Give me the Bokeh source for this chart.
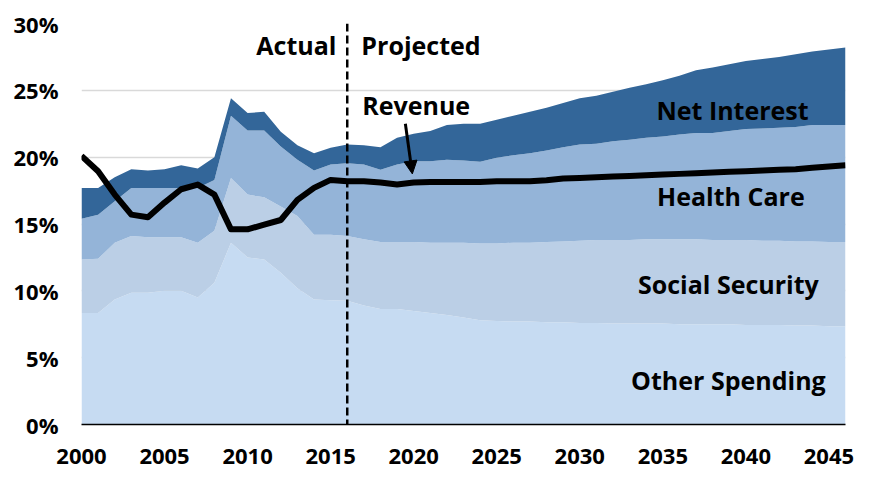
from bokeh.plotting import figure
from bokeh.models import (ColumnDataSource, Range1d, FixedTicker, PrintfTickFormatter,
                          Span, Label, Arrow, NormalHead)
from bokeh.embed import file_html
from bokeh.resources import INLINE

years = list(range(2000, 2047))

other_spending = [8.35, 8.35, 9.35, 9.85, 9.85, 10.0, 10.0, 9.5, 10.6, 13.6,
                  12.5, 12.35, 11.35, 10.2, 9.35, 9.3, 9.25, 8.9, 8.65, 8.65,
                  8.5, 8.35, 8.2, 8.0, 7.8, 7.75, 7.7, 7.7, 7.65, 7.65,
                  7.6, 7.6, 7.55, 7.55, 7.55, 7.55, 7.5, 7.5, 7.5, 7.5,
                  7.45, 7.45, 7.45, 7.4, 7.4, 7.35, 7.35]
social_security = [4.0, 4.05, 4.25, 4.25, 4.15, 4.0, 4.0, 4.1, 3.9, 4.85,
                   4.7, 4.65, 4.95, 5.4, 4.85, 4.9, 4.85, 4.95, 5.0, 5.0,
                   5.15, 5.25, 5.4, 5.6, 5.75, 5.8, 5.9, 5.9, 6.0, 6.05,
                   6.15, 6.2, 6.25, 6.25, 6.3, 6.3, 6.35, 6.35, 6.3, 6.3,
                   6.35, 6.3, 6.3, 6.3, 6.3, 6.3, 6.3]
health_care = [3.05, 3.3, 3.1, 3.6, 3.7, 3.7, 3.7, 4.1, 3.8, 4.65,
               4.8, 5.0, 4.5, 4.2, 4.8, 5.25, 5.45, 5.6, 5.4, 5.8,
               6.05, 6.1, 6.2, 6.15, 6.1, 6.4, 6.55, 6.7, 6.85, 7.05,
               7.2, 7.2, 7.4, 7.5, 7.6, 7.7, 7.85, 7.95, 8.0, 8.15,
               8.3, 8.4, 8.45, 8.55, 8.7, 8.75, 8.75]
net_interest = [2.3, 2.0, 1.8, 1.4, 1.3, 1.4, 1.7, 1.45, 1.7, 1.3,
                1.3, 1.4, 1.1, 1.1, 1.3, 1.25, 1.4, 1.45, 1.7, 2.0,
                2.05, 2.25, 2.6, 2.75, 2.85, 2.85, 2.95, 3.1, 3.2, 3.3,
                3.45, 3.6, 3.7, 3.9, 4.0, 4.2, 4.4, 4.7, 4.9, 5.0,
                5.1, 5.2, 5.3, 5.45, 5.5, 5.65, 5.8]
revenue = [20.1, 18.95, 17.2, 15.7, 15.5, 16.6, 17.6, 17.95, 17.2, 14.6,
           14.6, 14.95, 15.3, 16.8, 17.7, 18.3, 18.2, 18.2, 18.1, 17.95,
           18.1, 18.15, 18.15, 18.15, 18.15, 18.2, 18.2, 18.2, 18.27, 18.4,
           18.45, 18.5, 18.55, 18.6, 18.65, 18.7, 18.75, 18.8, 18.85, 18.9,
           18.95, 19.0, 19.05, 19.1, 19.2, 19.3, 19.4]

series_names = ["Other Spending", "Social Security", "Health Care", "Net Interest"]
series_colors = ["#C6DBF2", "#BBCFE6", "#94B4D8", "#336699"]
x_ticks = [2000, 2005, 2010, 2015, 2020, 2025, 2030, 2035, 2040, 2045]
y_ticks = [0, 5, 10, 15, 20, 25, 30]
projection_start = 2016

FONT = "Open Sans"

source = ColumnDataSource(dict(
    year=years,
    other=other_spending,
    ss=social_security,
    hc=health_care,
    ni=net_interest,
    revenue=revenue,
))

p = figure(width=879, height=473, output_backend="svg", toolbar_location=None,
           x_range=Range1d(2000, 2046), y_range=Range1d(0, 30),
           min_border_left=81, min_border_right=34, min_border_top=23, min_border_bottom=49)
p.outline_line_color = None
p.background_fill_color = "white"
p.border_fill_color = "white"

p.varea_stack(stackers=["other", "ss", "hc", "ni"], x="year", color=series_colors,
              source=source)
p.line(x="year", y="revenue", source=source, line_color="black", line_width=6,
       line_join="round")

p.add_layout(Span(location=projection_start, dimension="height", line_color="black",
                  line_width=2.5, line_dash="8 4"))

# axes
p.xaxis.ticker = FixedTicker(ticks=x_ticks)
p.yaxis.ticker = FixedTicker(ticks=y_ticks)
p.yaxis.formatter = PrintfTickFormatter(format="%d%%")
for ax in (p.xaxis, p.yaxis):
    ax.major_label_text_font = FONT
    ax.major_label_text_font_style = "bold"
    ax.major_label_text_font_size = "22px"
    ax.major_label_text_color = "black"
    ax.major_tick_line_color = None
    ax.minor_tick_line_color = None
    ax.major_tick_out = 0
    ax.major_tick_in = 0
p.yaxis.axis_line_color = None
p.yaxis.major_label_standoff = 23
p.xaxis.axis_line_color = "black"
p.xaxis.axis_line_width = 1.5
p.xaxis.major_label_standoff = 24

p.xgrid.grid_line_color = None
p.ygrid.grid_line_color = "#D9D9D9"
p.ygrid.grid_line_width = 1.5

def add_label(x, y, text, align):
    p.add_layout(Label(x=x, y=y, text=text, text_align=align, text_baseline="alphabetic",
                       text_font=FONT, text_font_style="bold", text_font_size="25px",
                       text_color="black"))

add_label(2015.35, 28.4, "Actual", "right")
add_label(2016.85, 28.4, "Projected", "left")
add_label(2016.9, 23.9, "Revenue", "left")
add_label(2039.2, 23.55, series_names[3], "center")
add_label(2039.1, 17.1, series_names[2], "center")
add_label(2038.95, 10.5, series_names[1], "center")
add_label(2038.95, 3.35, series_names[0], "center")

p.add_layout(Arrow(x_start=2019.5, y_start=22.5, x_end=2019.92, y_end=18.75,
                   line_color="black", line_width=3,
                   end=NormalHead(size=13, fill_color="black", line_color="black")))

open("out.html", "w").write(file_html(p, INLINE))
